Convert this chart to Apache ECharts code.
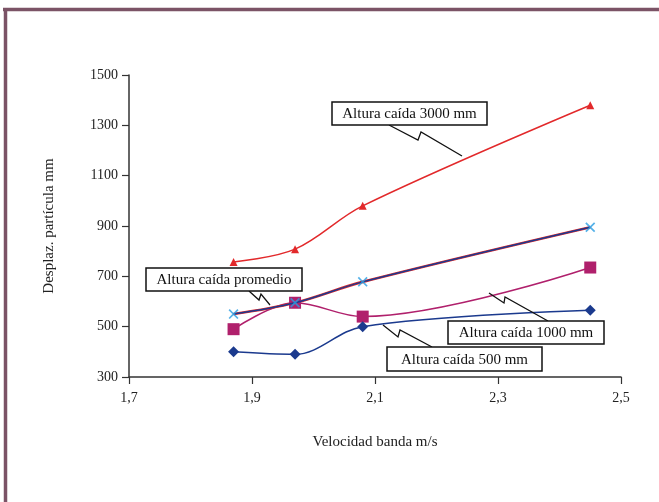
<!DOCTYPE html>
<html>
<head>
<meta charset="utf-8">
<script src="https://cdn.jsdelivr.net/npm/echarts@6/dist/echarts.min.js"></script>
<style>
  html, body { margin: 0; padding: 0; background: #fff; }
  #chart { width: 659px; height: 502px; }
</style>
</head>
<body>
<div id="chart"></div>
<script>
// Belt speed (m/s) and particle displacement (mm) for each drop height
const velocidad = [1.87, 1.97, 2.08, 2.45];
const caida500 = [400, 390, 500, 565];
const caida1000 = [490, 595, 540, 735];
const caida3000 = [757, 808, 980, 1380];
const promedio = [550, 595, 678, 895];

const yTicks = [300, 500, 700, 900, 1100, 1300, 1500];
const xTicks = [1.7, 1.9, 2.1, 2.3, 2.5];

const pairs = (ys) => velocidad.map((v, i) => [v, ys[i]]);
const serif = '"Liberation Serif", "Times New Roman", serif';

const crossSymbol = 'path://M0,1.2 L1.2,0 L5,3.8 L8.8,0 L10,1.2 L6.2,5 L10,8.8 L8.8,10 L5,6.2 L1.2,10 L0,8.8 L3.8,5 Z';

const chart = echarts.init(document.getElementById('chart'), null, { renderer: 'canvas' });

// Callout box with a zig-zag leader line
function callout(box, text, leader) {
  return [
    {
      type: 'polyline',
      shape: { points: leader },
      style: { stroke: '#111', lineWidth: 1.3, fill: null },
      z: 100
    },
    {
      type: 'rect',
      shape: { x: box[0], y: box[1], width: box[2], height: box[3] },
      style: { fill: '#fff', stroke: '#111', lineWidth: 1.5 },
      z: 101
    },
    {
      type: 'text',
      x: box[0] + box[2] / 2,
      y: box[1] + box[3] / 2 + 1,
      style: {
        text: text,
        font: '15px ' + serif,
        fill: '#111',
        align: 'center',
        verticalAlign: 'middle'
      },
      z: 102
    }
  ];
}

const option = {
  backgroundColor: '#fff',
  animation: false,
  grid: { left: 129, right: 38, top: 75, bottom: 125 },
  xAxis: {
    type: 'value',
    min: xTicks[0],
    max: xTicks[xTicks.length - 1],
    interval: 0.2,
    name: 'Velocidad banda m/s',
    nameLocation: 'middle',
    nameGap: 58,
    nameTextStyle: { fontFamily: serif, fontSize: 15, color: '#222' },
    axisLine: { lineStyle: { color: '#333', width: 1.5 } },
    axisTick: { length: 7, lineStyle: { color: '#333', width: 1.2 } },
    axisLabel: {
      fontFamily: serif, fontSize: 14, color: '#222', margin: 14,
      formatter: (v) => v.toFixed(1).replace('.', ',')
    },
    splitLine: { show: false }
  },
  yAxis: {
    type: 'value',
    min: yTicks[0],
    max: yTicks[yTicks.length - 1],
    interval: 200,
    name: 'Desplaz. partícula mm',
    nameLocation: 'middle',
    nameGap: 72,
    nameRotate: 90,
    nameTextStyle: { fontFamily: serif, fontSize: 15, color: '#222' },
    axisLine: { show: true, lineStyle: { color: '#333', width: 1.5 } },
    axisTick: { show: true, length: 7, lineStyle: { color: '#333', width: 1.2 } },
    axisLabel: {
      fontFamily: serif, fontSize: 14, color: '#222', margin: 11,
      formatter: (v) => String(v)
    },
    splitLine: { show: false }
  },
  series: [
    {
      name: 'Altura caída 3000 mm',
      type: 'line',
      data: pairs(caida3000),
      smooth: 0.35,
      symbol: 'triangle',
      symbolSize: 8,
      lineStyle: { color: '#e2292b', width: 1.5 },
      itemStyle: { color: '#e2292b' }
    },
    {
      name: 'Altura caída 1000 mm',
      type: 'line',
      data: pairs(caida1000),
      smooth: 0.35,
      symbol: 'rect',
      symbolSize: 12,
      lineStyle: { color: '#b0206c', width: 1.5 },
      itemStyle: { color: '#b0206c' }
    },
    {
      name: 'Altura caída 500 mm',
      type: 'line',
      data: pairs(caida500),
      smooth: 0.35,
      symbol: 'diamond',
      symbolSize: 11,
      lineStyle: { color: '#1b3a8e', width: 1.5 },
      itemStyle: { color: '#1b3a8e' }
    },
    {
      name: 'Altura caída promedio (base)',
      type: 'line',
      data: pairs(promedio),
      smooth: 0.35,
      symbol: 'none',
      lineStyle: { color: '#e2292b', width: 2.6 },
      z: 3
    },
    {
      name: 'Altura caída promedio',
      type: 'line',
      data: pairs(promedio),
      smooth: 0.35,
      symbol: 'none',
      lineStyle: { color: '#1b3a8e', width: 1.5 },
      z: 4
    },
    {
      name: 'Altura caída promedio (puntos)',
      type: 'scatter',
      data: pairs(promedio),
      symbol: crossSymbol,
      symbolSize: 10,
      itemStyle: { color: '#2a9de2' },
      z: 5
    }
  ],
  graphic: [
    // frame around the figure
    { type: 'line', shape: { x1: 3, y1: 9.5, x2: 659, y2: 9.5 }, style: { stroke: '#7b5366', lineWidth: 3.5 }, z: 50 },
    { type: 'line', shape: { x1: 5.5, y1: 8, x2: 5.5, y2: 502 }, style: { stroke: '#7b5366', lineWidth: 3.5 }, z: 50 },
    ...callout([332, 102, 155, 23], 'Altura caída 3000 mm',
      [[389, 125], [418, 140], [421, 132], [462, 156]]),
    ...callout([146, 268, 156, 23], 'Altura caída promedio',
      [[249, 291], [259, 300], [261, 294], [270, 305]]),
    ...callout([448, 321, 156, 23], 'Altura caída 1000 mm',
      [[489, 293], [504, 303], [505, 297], [548, 321]]),
    ...callout([387, 347, 155, 24], 'Altura caída 500 mm',
      [[383, 325], [398, 337], [400, 330], [432, 347]])
  ]
};

chart.setOption(option);
</script>
</body>
</html>
